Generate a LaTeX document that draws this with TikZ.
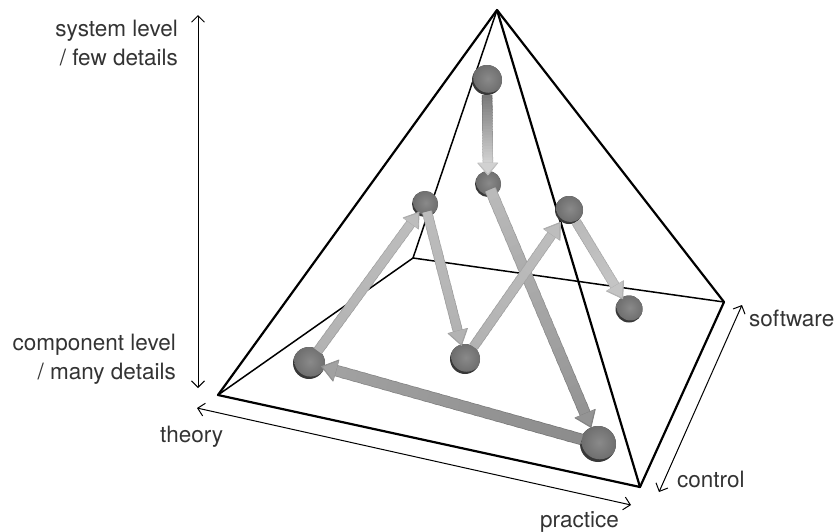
\documentclass[tikz,border=0pt]{standalone}
\usepackage{fontspec}
\setmainfont{TeX Gyre Heros}
\usetikzlibrary{calc,arrows.meta}
\definecolor{textgrey}{gray}{0.2}
\tikzset{
  ball/.style={circle,inner sep=0pt,minimum size=2*#1 pt,fill=black!78,
    path picture={\shade[inner color=black!46,outer color=black!58]
      ([shift={(#1*0.1,-#1*0.17)}]path picture bounding box.center) circle[radius=#1*1.02];}},
  edgeA/.style={line width=2.2pt,line cap=round,line join=round},
  edgeB/.style={line width=1.5pt,line cap=round,line join=round},
  scalearrow/.style={line width=1pt,{Straight Barb[length=6.5pt,width=13pt,line width=1pt]}-{Straight Barb[length=6.5pt,width=13pt,line width=1pt]}},
  lbl/.style={inner sep=0pt,text=textgrey,font=\fontsize{22.5}{29}\selectfont,align=right}
}
% #1 from, #2 to, #3 start gap, #4 end gap, #5 start grey %, #6 end grey %, #7 shaft width, #8 head length, #9 head half width
\newcommand\fatarrow[9]{%
  \coordinate (s) at ($(#1)!#3pt!(#2)$);
  \coordinate (t) at ($(#2)!#4pt!(#1)$);
  \coordinate (n) at ($(t)!#8pt!(s)$);
  \foreach \i in {0,...,23}{%
    \pgfmathsetmacro\ca{#5+(#6-#5)*\i/23}
    \pgfmathsetmacro\cb{\ca+8}
    \pgfmathsetmacro\fa{\i/24}
    \pgfmathsetmacro\fb{min((\i+1.4)/24,1)}
    \draw[line width=#7pt,black!\cb] ($(s)!\fa!(n)$) -- ($(s)!\fb!(n)$);
  }%
  \foreach \i in {0,...,23}{%
    \pgfmathsetmacro\ca{#5+(#6-#5)*\i/23}
    \pgfmathsetmacro\fa{\i/24}
    \pgfmathsetmacro\fb{min((\i+1.4)/24,1)}
    \draw[line width=#7pt-1.6pt,black!\ca,shift={(0.85,-0.85)}] ($(s)!\fa!(n)$) -- ($(s)!\fb!(n)$);
  }%
  \pgfmathsetmacro\ch{#6+7}
  \path[fill=black!\ch,draw=black!\ch,line width=0.8pt,line join=round] (t) -- ($(n)!#9pt!90:(t)$) -- ($(n)!#9pt!-90:(t)$) -- cycle;
  \path[fill=black!#6,shift={(0.8,-0.8)}] ($(t)!1.5pt!(n)$) -- ($(n)!#9pt-1pt!90:(t)$) -- ($(n)!#9pt-1pt!-90:(t)$) -- cycle;
}
\begin{document}
\begin{tikzpicture}[x=1pt,y=-1pt]
\useasboundingbox (0,0) rectangle (834,531);
% pyramid corners
\coordinate (apex) at (497,10);
\coordinate (pl) at (218,395);
\coordinate (pf) at (640,487);
\coordinate (pr) at (724,302);
\coordinate (pb) at (413,258);
\draw[edgeB] (pl) -- (pb) -- (pr);
\draw[edgeB] (apex) -- (pb);
\draw[edgeA] (apex) -- (pl) -- (pf) -- (apex);
\draw[edgeA] (pf) -- (pr) -- (apex);
% scale arrows
\coordinate (v1) at (198,15);
\coordinate (v2) at (198,388);
\coordinate (h1) at (197,408);
\coordinate (h2) at (631,505);
\coordinate (d1) at (742,305);
\coordinate (d2) at (659,492);
\draw[scalearrow] (v1) -- (v2);
\draw[scalearrow] (h1) -- (h2);
\draw[scalearrow] (d1) -- (d2);
% labels
\node[lbl,anchor=east] (t1) at (178,43) {system level\\/ few details};
\node[lbl,anchor=east] (t2) at (176,359) {component level\\/ many details};
\node[lbl,anchor=base west] (t3) at (160,442) {theory};
\node[lbl,anchor=base west] (t4) at (540,527) {practice};
\node[lbl,anchor=base west] (t5) at (677,487) {control};
\node[lbl,anchor=base west] (t6) at (749,326) {software};
% balls
\node[ball=15] (A) at (487,80) {};
\node[ball=13] (B) at (488,184) {};
\node[ball=13] (C) at (425,204) {};
\node[ball=14] (D) at (569,210) {};
\node[ball=13.5] (E) at (629,309) {};
\node[ball=16] (F) at (309,363) {};
\node[ball=15] (G) at (465,359) {};
\node[ball=18] (H) at (598,444) {};
% arrows
\fatarrow{A}{B}{15}{9}{52}{18}{10.5}{12}{10}
\fatarrow{B}{H}{6}{18}{27}{42}{11.5}{15}{11}
\fatarrow{H}{F}{17}{13}{45}{37}{11.5}{15}{11}
\fatarrow{F}{C}{15}{10}{30}{26}{10}{14}{9.5}
\fatarrow{C}{G}{8}{14}{26}{30}{10}{15}{10}
\fatarrow{G}{D}{15}{15}{30}{26}{10}{15}{10}
\fatarrow{D}{E}{14}{12}{27}{23}{10}{15}{10}
\end{tikzpicture}
\end{document}
